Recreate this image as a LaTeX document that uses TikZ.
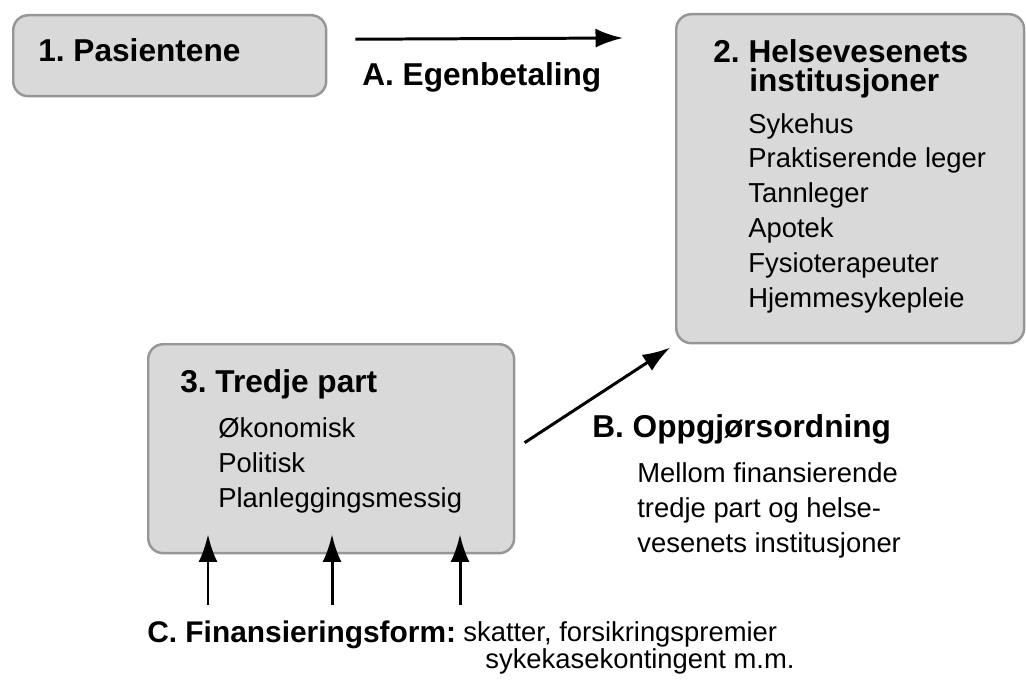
\documentclass[tikz,border=0pt]{standalone}
\usepackage{fontspec}
\setmainfont{Liberation Sans}
\usetikzlibrary{arrows.meta}

\definecolor{boxgray}{RGB}{217,217,217}
\definecolor{edgegray}{RGB}{150,150,150}
\frenchspacing

\begin{document}
\begin{tikzpicture}[x=0.02cm,y=-0.02cm,
  box/.style={draw=edgegray,fill=boxgray,line width=1.4pt,rounded corners=0.3cm,anchor=north west,inner sep=0pt},
  head/.style={font=\fontsize{18}{16.5}\selectfont\bfseries,anchor=base west,inner sep=0pt},
  item/.style={font=\fontsize{15.6}{19.8}\selectfont,anchor=base west,inner sep=0pt,align=left},
  flow/.style={-{Latex[length=0.55cm,width=0.38cm]},line width=1.7pt}]
\useasboundingbox (0,0) rectangle (1026,682);

\node[box,minimum width=6.26cm,minimum height=1.62cm] (p1) at (12,14) {};
\node[box,minimum width=6.96cm,minimum height=6.58cm] (p2) at (675,13) {};
\node[box,minimum width=7.32cm,minimum height=4.18cm] (p3) at (147,343) {};

% texts; a node of several lines sits on its last line
\node[head] (t1) at (38,62) {1. Pasientene};
\node[head] (ta) at (362,86) {A. Egenbetaling};
\node[head] (t2) at (713,63) {2. Helsevesenets};
\node[head] (t2b) at (749,92) {institusjoner};
\node[item] (l2) at (748,307) {Sykehus\\Praktiserende leger\\Tannleger\\Apotek\\Fysioterapeuter\\Hjemmesykepleie};
\node[head] (t3) at (180,392) {3. Tredje part};
\node[item] (l3) at (218,507) {Økonomisk\\Politisk\\Planleggingsmessig};
\node[head] (tb) at (592,437) {B. Oppgjørsordning};
\node[item] (lb) at (637,552) {Mellom finansierende\\tredje part og helse-\\vesenets institusjoner};
\node[head,font=\fontsize{17}{16}\selectfont\bfseries] (tc) at (147,642) {C. Finansieringsform:};
\node[item] (lc1) at (463,641) {skatter, forsikringspremier};
\node[item] (lc2) at (485,668) {sykekasekontingent m.m.};

\coordinate (a1) at (623,38);
\coordinate (c1) at (208,605);
\coordinate (c2) at (332,605);
\coordinate (c3) at (460,605);

\draw[flow] ([xshift=0.56cm,yshift=0.33cm]p1.east) -- (a1);
\draw[flow,shorten <=0.22cm,shorten >=0.12cm] (p3.east) -- (p2.south west);
\draw[flow,shorten >=-0.4cm] (c1) -- (c1 |- p3.south);
\draw[flow,shorten >=-0.4cm] (c2) -- (c2 |- p3.south);
\draw[flow,shorten >=-0.4cm] (c3) -- (c3 |- p3.south);
\end{tikzpicture}
\end{document}
